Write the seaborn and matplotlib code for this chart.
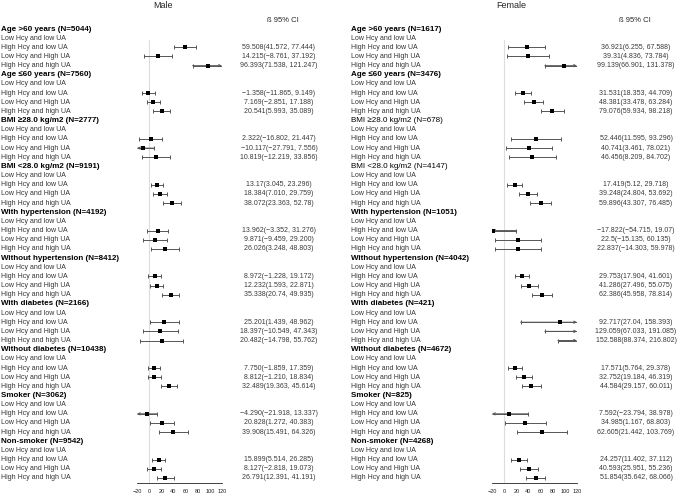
"""
Forest plot: Male / Female subgroup estimates (ß 95% CI)
"""

import numpy as np
import pandas as pd
import matplotlib
matplotlib.use("Agg")
import matplotlib.pyplot as plt
import matplotlib.transforms as mtransforms
import seaborn as sns

sns.set_style("white")
plt.rcParams['font.family'] = ['Liberation Sans', 'DejaVu Sans']

# ---------------- data ----------------
sub_labels = ["Low Hcy and low UA", "High Hcy and low UA",
              "Low Hcy and High UA", "High Hcy and high UA"]

male_groups = ["Age >60 years (N=5044)", "Age ≤60 years (N=7560)",
               "BMI ≥28.0 kg/m2 (N=2777)", "BMI <28.0 kg/m2 (N=9191)",
               "With hypertension (N=4192)", "Without hypertension (N=8412)",
               "With diabetes (N=2166)", "Without diabetes (N=10438)",
               "Smoker (N=3062)", "Non-smoker (N=9542)"]
male_est = [["59.508", "14.215", "96.393"], ["-1.358", "7.169", "20.541"],
            ["2.322", "-10.117", "10.819"], ["13.17", "18.384", "38.072"],
            ["13.962", "9.871", "26.026"], ["8.972", "12.232", "35.338"],
            ["25.201", "18.397", "20.482"], ["7.750", "8.812", "32.489"],
            ["-4.290", "20.828", "39.908"], ["15.899", "8.127", "26.791"]]
male_lo = [["41.572", "-8.761", "71.538"], ["-11.865", "-2.851", "5.993"],
           ["-16.802", "-27.791", "-12.219"], ["3.045", "7.010", "23.363"],
           ["-3.352", "-9.459", "3.248"], ["-1.228", "1.593", "20.74"],
           ["1.439", "-10.549", "-14.798"], ["-1.859", "-1.210", "19.363"],
           ["-21.918", "1.272", "15.491"], ["5.514", "-2.818", "12.391"]]
male_hi = [["77.444", "37.192", "121.247"], ["9.149", "17.188", "35.089"],
           ["21.447", "7.556", "33.856"], ["23.296", "29.759", "52.78"],
           ["31.276", "29.200", "48.803"], ["19.172", "22.871", "49.935"],
           ["48.962", "47.343", "55.762"], ["17.359", "18.834", "45.614"],
           ["13.337", "40.383", "64.326"], ["26.285", "19.073", "41.191"]]

female_groups = ["Age >60 years (N=1617)", "Age ≤60 years (N=3476)",
                 "BMI ≥28.0 kg/m2 (N=678)", "BMI <28.0 kg/m2 (N=4147)",
                 "With hypertension (N=1051)", "Without hypertension (N=4042)",
                 "With diabetes (N=421)", "Without diabetes (N=4672)",
                 "Smoker (N=825)", "Non-smoker (N=4268)"]
female_est = [["36.921", "39.31", "99.139"], ["31.531", "48.381", "79.076"],
              ["52.446", "40.741", "46.456"], ["17.419", "39.248", "59.896"],
              ["-17.822", "22.5", "22.837"], ["29.753", "41.286", "62.386"],
              ["92.717", "129.059", "152.588"], ["17.571", "32.752", "44.584"],
              ["7.592", "34.985", "62.605"], ["24.257", "40.593", "51.854"]]
female_lo = [["6.255", "4.836", "66.901"], ["18.353", "33.478", "59.934"],
             ["11.595", "3.461", "8.209"], ["5.12", "24.804", "43.307"],
             ["-54.715", "-15.135", "-14.303"], ["17.904", "27.496", "45.958"],
             ["27.04", "67.033", "88.374"], ["5.764", "19.184", "29.157"],
             ["-23.794", "1.167", "21.442"], ["11.402", "25.951", "35.642"]]
female_hi = [["67.588", "73.784", "131.378"], ["44.709", "63.284", "98.218"],
             ["93.296", "78.021", "84.702"], ["29.718", "53.692", "76.485"],
             ["19.07", "60.135", "59.978"], ["41.601", "55.075", "78.814"],
             ["158.393", "191.085", "216.802"], ["29.378", "46.319", "60.011"],
             ["38.978", "68.803", "103.769"], ["37.112", "55.236", "68.066"]]
female_bold = [True, True, False, False, True, True, True, True, True, True]

x_ticks = [-20, 0, 20, 40, 60, 80, 100, 120]

W, H = 677, 496


def fx(x):
    return x / W


def fy(y):
    return 1 - y / H


def build_df(groups, est, lo, hi):
    rows = []
    for g in range(len(groups)):
        for k in range(3):
            rows.append({'row': 5 * g + 2 + k,
                         'est': float(est[g][k]), 'lo': float(lo[g][k]), 'hi': float(hi[g][k]),
                         'txt': f"{est[g][k]}({lo[g][k]}, {hi[g][k]})".replace('-', '\u2212')})
    return pd.DataFrame(rows)


def draw_panel(fig, groups, est, lo, hi, ax_left, label_x, value_x, title, title_x, head_x, bold):
    df = build_df(groups, est, lo, hi)
    xmin, xmax = x_ticks[0], x_ticks[-1]

    ax = fig.add_axes([fx(ax_left), fy(483), 85 / W, 443 / H])
    ax.axvline(0, color='#dcdcdc', lw=0.8, zorder=0)

    # CI lines
    ci_col = '#555555'
    for _, r in df.iterrows():
        lc, hc = max(r['lo'], xmin), min(r['hi'], xmax)
        ax.hlines(r['row'], lc, hc, color=ci_col, lw=0.7, zorder=1)
        if r['lo'] >= xmin:
            ax.plot([lc], [r['row']], marker='|', ms=3, mew=0.7, color=ci_col, zorder=1)
        else:
            ax.annotate('', xy=(xmin, r['row']), xytext=(hc, r['row']),
                        arrowprops=dict(arrowstyle='->', lw=0.7, color=ci_col,
                                        mutation_scale=4, shrinkA=0, shrinkB=0))
        if r['hi'] <= xmax:
            ax.plot([hc], [r['row']], marker='|', ms=3, mew=0.7, color=ci_col, zorder=1)
        else:
            ax.annotate('', xy=(xmax, r['row']), xytext=(lc, r['row']),
                        arrowprops=dict(arrowstyle='->', lw=0.7, color=ci_col,
                                        mutation_scale=4, shrinkA=0, shrinkB=0))

    # point estimates
    sns.scatterplot(data=df, x='est', y='row', marker='s', color='black', s=11,
                    linewidth=0, ax=ax, legend=False, zorder=3)

    ax.set_xlim(xmin, xmax)
    ax.set_ylim(49.55, 1.2)
    ax.set_xlabel('')
    ax.set_ylabel('')
    ax.set_yticks([])
    ax.set_xticks(x_ticks)
    ax.tick_params(axis='x', direction='in', length=3, width=0.6, labelsize=4.0,
                   pad=4.5, colors='#222222')
    for s in ['left', 'top', 'right']:
        ax.spines[s].set_visible(False)
    ax.spines['bottom'].set_linewidth(0.6)
    ax.spines['bottom'].set_color('#222222')
    ax.patch.set_alpha(0)

    trans = mtransforms.blended_transform_factory(fig.transFigure, ax.transData)
    for g, name in enumerate(groups):
        ax.text(fx(label_x), 5 * g, name, transform=trans, ha='left', va='center',
                fontsize=5.8, fontweight='bold' if bold[g] else 'normal', color='black')
        for k, sl in enumerate(sub_labels):
            ax.text(fx(label_x), 5 * g + 1 + k, sl, transform=trans, ha='left',
                    va='center', fontsize=5.0, color='#333333')
    for _, r in df.iterrows():
        ax.text(fx(value_x), r['row'], r['txt'], transform=trans, ha='center',
                va='center', fontsize=5.0, color='#3a3a3a')

    fig.text(fx(title_x), fy(6), title, ha='center', va='center', fontsize=6.5)
    fig.text(fx(head_x), fy(20), 'ß 95% CI', ha='center', va='center', fontsize=5.5)
    return ax


fig = plt.figure(figsize=(W / 100, H / 100), dpi=100)
fig.patch.set_facecolor('white')

draw_panel(fig, male_groups, male_est, male_lo, male_hi, 137, 1, 279, 'Male', 163, 283,
           [True] * len(male_groups))
draw_panel(fig, female_groups, female_est, female_lo, female_hi, 492, 351, 636, 'Female', 511, 635,
           female_bold)

plt.savefig('out.png', dpi=100)
plt.close()
